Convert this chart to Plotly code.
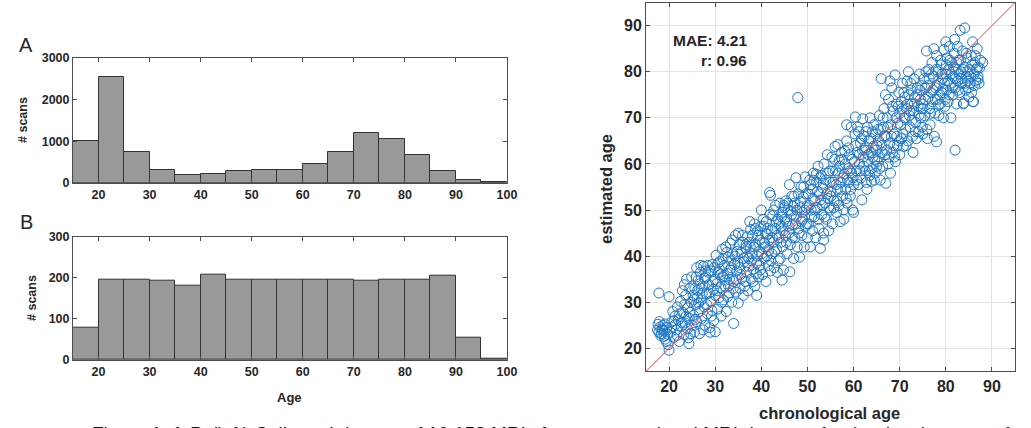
import plotly.graph_objects as go

# ---------------- data ----------------
bin_edges = [15, 20, 25, 30, 35, 40, 45, 50, 55, 60, 65, 70, 75, 80, 85, 90, 95, 100]
counts_A = [1000, 2540, 730, 315, 185, 218, 290, 298, 306, 444, 742, 1194, 1056, 661, 282, 73, 15]
counts_B = [78, 195, 195, 194, 180, 208, 195, 195, 195, 195, 195, 192, 196, 195, 204, 54, 3]
hist_xticks = [20, 30, 40, 50, 60, 70, 80, 90, 100]
hist_A_yticks = [0, 1000, 2000, 3000]
hist_B_yticks = [0, 100, 200, 300]

scatter_ticks = [20, 30, 40, 50, 60, 70, 80, 90]
age_range = [15, 95]
mae_text = "MAE: 4.21"
r_text = "r: 0.96"

# (chronological age, estimated age)
pts_under20 = [(17.5,24.0),(17.6,25.2),(17.8,23.5),(17.8,32.0),(18.0,24.6),(18.3,23.2),(18.5,24.2),(18.7,25.0),
               (19.0,23.8),(19.2,22.0),(19.5,24.5),(19.8,20.8),(20.0,19.6),(20.0,31.2),(19.4,21.5),(18.9,22.6)]
pts_20s_a = [(20.3,23.5),(20.6,25.8),(21.0,22.4),(21.3,27.0),(21.6,24.0),(21.8,29.0),(22.0,26.2),(22.2,21.5),
             (22.5,30.2),(22.7,24.8),(23.0,27.8),(23.2,23.0),(23.5,25.5),(23.6,31.5),(23.8,35.0),(24.0,24.2),
             (24.1,28.8),(24.3,21.0),(24.4,26.5),(24.5,33.0),(24.7,23.2),(24.8,30.0),(25.0,25.0),(21.4,25.2),
             (22.9,32.5),(24.2,22.3),(20.8,28.0),(23.4,29.5)]
pts_20s_b = [(25.2,31.5),(25.3,27.2),(25.5,23.5),(25.6,33.0),(25.8,29.5),(26.0,25.8),(26.1,31.0),(26.3,34.8),
             (26.5,28.0),(26.6,23.2),(26.8,36.5),(27.0,30.5),(27.1,26.5),(27.3,33.5),(27.5,37.8),(27.6,29.0),
             (27.8,25.0),(28.0,35.5),(28.1,31.8),(28.3,27.5),(28.4,38.0),(28.6,33.8),(28.8,24.5),(29.0,30.2),
             (29.1,36.8),(29.3,28.2),(29.5,34.5),(29.7,26.0),(29.8,37.5),(30.0,31.5),(27.9,36.8),(26.9,38.0),
             (28.9,23.5),(25.9,35.5),(27.4,24.0),(30.0,23.6)]
pts_30s_a = [(30.2,40.2),(30.3,34.0),(30.5,28.5),(30.7,36.5),(30.8,31.0),(31.0,38.8),(31.2,33.2),(31.3,27.0),
             (31.5,41.5),(31.6,35.5),(31.8,30.5),(32.0,38.0),(32.1,33.5),(32.3,42.0),(32.4,28.0),(32.6,36.2),
             (32.8,39.8),(33.0,32.0),(33.1,35.0),(33.3,42.8),(33.5,37.5),(33.6,30.0),(33.8,40.5),(34.0,25.4),
             (34.0,34.5),(34.2,38.2),(34.4,44.5),(34.5,32.2),(34.7,36.8),(34.8,41.0),(35.0,29.8),(35.0,45.0),
             (31.9,35.8),(33.4,39.0),(32.9,33.6),(30.9,37.2)]
pts_30s_b = [(35.3,37.5),(35.4,33.0),(35.6,40.8),(35.8,35.2),(36.0,43.0),(36.1,31.5),(36.3,38.8),(36.5,34.5),
             (36.6,41.8),(36.8,36.5),(37.0,44.2),(37.1,32.5),(37.3,39.5),(37.5,47.5),(37.6,42.0),(37.8,35.0),
             (38.0,40.5),(38.1,44.5),(38.3,37.2),(38.5,47.0),(38.6,33.5),(38.8,42.5),(39.0,38.5),(39.0,31.5),
             (39.2,45.5),(39.4,35.5),(39.5,41.0),(39.7,43.5),(39.8,37.0),(40.0,50.0),(36.9,40.0),(38.9,36.2),
             (37.7,45.8)]
pts_40s_a = [(40.2,43.0),(40.3,36.0),(40.5,46.5),(40.6,39.5),(40.8,42.0),(41.0,34.5),(41.1,47.5),(41.3,44.8),
             (41.5,38.0),(41.6,41.2),(41.8,53.8),(42.0,53.2),(42.0,36.8),(42.2,45.5),(42.3,40.5),(42.5,48.8),
             (42.6,43.0),(42.8,37.5),(43.0,46.0),(43.1,51.0),(43.3,41.5),(43.5,36.5),(43.6,48.0),(43.8,44.0),
             (44.0,51.5),(44.1,39.5),(44.3,46.5),(44.5,49.5),(44.6,42.0),(44.8,37.0),(45.0,50.5),(41.9,49.0),
             (43.9,47.0),(40.9,45.0),(44.5,34.8)]
pts_40s_b = [(45.2,44.5),(45.3,52.0),(45.5,47.5),(45.6,40.5),(45.8,50.0),(46.0,45.0),(46.1,55.5),(46.2,36.6),
             (46.3,42.5),(46.5,49.0),(46.6,53.0),(46.8,46.8),(47.0,39.5),(47.2,51.5),(47.3,44.0),(47.5,57.0),
             (47.6,48.5),(47.8,42.0),(47.9,74.4),(48.0,53.5),(48.1,46.0),(48.3,39.8),(48.4,50.5),(48.6,55.0),
             (48.8,44.5),(49.0,48.0),(49.1,52.8),(49.3,42.0),(49.5,57.2),(49.6,46.5),(49.8,50.5),(50.0,44.0),
             (46.9,50.8),(48.9,49.5)]
pts_50s_a = [(50.2,53.5),(50.3,47.0),(50.5,56.5),(50.6,42.0),(50.8,50.0),(51.0,54.5),(51.1,45.5),(51.3,58.0),
             (51.5,48.5),(51.6,52.0),(51.8,44.0),(52.0,56.0),(52.1,50.5),(52.3,59.5),(52.5,46.0),(52.6,53.5),
             (52.8,41.7),(53.0,57.5),(53.1,49.0),(53.3,54.8),(53.5,45.0),(53.6,60.0),(53.8,51.5),(54.0,56.5),
             (54.1,48.0),(54.3,62.0),(54.5,52.5),(54.6,45.5),(54.8,58.5),(55.0,50.0),(55.0,54.0),(52.9,52.2),
             (51.9,57.8),(53.5,43.5)]
pts_50s_b = [(55.3,61.5),(55.4,47.0),(55.6,56.0),(55.8,52.0),(56.0,63.8),(56.1,58.5),(56.3,49.5),(56.5,54.5),
             (56.6,64.2),(56.8,51.0),(57.0,59.5),(57.1,47.5),(57.3,56.0),(57.5,61.0),(57.6,53.0),(57.8,50.0),
             (58.0,57.8),(58.1,62.8),(58.3,54.5),(58.5,65.0),(58.6,51.5),(58.8,59.0),(59.0,56.0),(59.1,62.0),
             (59.3,53.0),(59.5,68.0),(59.6,58.0),(59.8,50.0),(60.0,55.5),(60.0,49.5),(57.9,48.0),(56.9,60.8),
             (58.5,68.5)]
pts_60s_a = [(60.3,66.5),(60.4,70.2),(60.6,58.5),(60.8,62.5),(61.0,55.5),(61.1,67.0),(61.3,60.0),(61.5,64.5),
             (61.6,57.0),(61.8,52.2),(62.0,69.8),(62.1,61.5),(62.3,66.0),(62.5,58.5),(62.6,63.5),(62.8,56.0),
             (63.0,68.0),(63.1,60.5),(63.3,65.0),(63.5,57.5),(63.6,70.0),(63.8,62.5),(64.0,59.0),(64.1,67.0),
             (64.3,63.8),(64.5,56.5),(64.6,61.0),(64.8,66.5),(65.0,59.5),(65.0,64.0),(62.9,54.5),(61.9,63.0),
             (63.9,56.2)]
pts_60s_b = [(65.3,67.5),(65.4,61.5),(65.6,70.5),(65.8,56.5),(66.0,78.5),(66.1,64.0),(66.3,59.5),(66.5,68.0),
             (66.6,72.0),(66.8,62.0),(67.0,55.8),(67.1,66.0),(67.3,70.0),(67.5,60.0),(67.6,74.0),(67.8,64.5),
             (68.0,58.0),(68.1,68.5),(68.3,76.5),(68.5,62.5),(68.6,71.5),(68.8,66.5),(69.0,79.3),(69.1,60.5),
             (69.3,73.0),(69.5,64.0),(69.6,68.8),(69.8,75.5),(70.0,62.0),(70.0,71.0),(67.9,78.0),(68.9,61.5),
             (66.9,75.0)]
pts_70s_a = [(70.3,73.5),(70.4,65.5),(70.6,77.5),(70.8,63.8),(71.0,70.0),(71.1,74.5),(71.3,67.5),(71.5,72.0),
             (71.6,78.0),(71.8,65.0),(72.0,75.0),(72.1,70.5),(72.3,68.0),(72.5,76.0),(72.6,73.0),(72.8,66.0),
             (73.0,71.5),(73.1,78.5),(73.3,74.5),(73.5,69.0),(73.6,65.5),(73.8,76.5),(74.0,72.5),(74.1,67.0),
             (74.3,79.5),(74.5,74.0),(74.6,70.0),(74.8,77.0),(75.0,66.5),(75.0,73.0),(72.9,62.5),(71.9,80.0)]
pts_70s_b = [(75.3,78.5),(75.4,70.5),(75.6,74.0),(75.8,84.5),(76.0,65.5),(76.1,77.0),(76.3,80.5),(76.5,72.0),
             (76.6,68.5),(76.8,75.5),(77.0,82.0),(77.1,73.5),(77.3,79.0),(77.5,66.0),(77.6,71.0),(77.8,76.5),
             (78.0,83.5),(78.0,64.8),(78.2,74.0),(78.3,80.0),(78.5,70.5),(78.6,77.5),(78.8,73.0),(79.0,81.5),
             (79.1,75.5),(79.3,78.5),(79.5,70.0),(79.6,84.8),(79.8,72.5),(80.0,86.5),(80.0,79.5),(77.4,85.0),
             (78.9,82.5),(79.4,76.2),(78.4,72.8)]
pts_80s_a = [(80.2,76.0),(80.3,83.0),(80.5,73.5),(80.6,80.5),(80.8,85.5),(81.0,77.5),(81.1,70.0),(81.3,82.0),
             (81.5,75.0),(81.6,79.0),(81.8,84.0),(82.0,63.0),(82.0,76.5),(82.2,80.5),(82.3,73.0),(82.5,85.5),
             (82.6,78.0),(82.8,82.5),(83.0,75.5),(83.1,89.0),(83.3,80.0),(83.5,77.5),(83.6,84.5),(83.8,73.0),
             (84.0,81.0),(84.1,89.5),(84.3,76.0),(84.5,79.0),(84.6,83.0),(84.8,78.0),(85.0,74.5),(83.9,73.2),
             (81.9,87.0)]
pts_80s_b = [(85.2,80.5),(85.3,77.5),(85.5,83.5),(85.6,75.5),(85.8,86.5),(86.0,73.5),(86.1,79.5),(86.3,82.0),
             (86.5,78.0),(86.6,80.5),(86.8,85.0),(87.0,79.0),(87.0,78.3),(87.3,80.8),(87.5,82.5),(88.0,82.0),
             (85.9,73.5)]
pts_more_young = [(17.9,25.8),(18.2,22.8),(18.6,23.9),(19.1,25.3),(19.7,23.1),(20.5,24.6),(21.1,26.0),(21.7,22.8),
                  (22.3,27.5),(22.8,25.6),(23.3,33.8),(23.7,27.0),(24.6,27.8),(24.9,35.5),(25.4,30.6),(25.7,26.3),
                  (26.2,32.6),(26.4,29.8),(26.7,34.0),(27.2,31.9),(27.7,35.2),(28.2,29.5),(28.5,36.5),(28.7,32.0),
                  (29.2,27.0),(29.4,38.2),(29.6,32.8),(29.9,35.0),(26.0,37.5),(27.0,33.0)]
pts_more_30_45 = [(30.4,32.5),(30.6,38.5),(31.1,36.0),(31.4,30.0),(31.7,39.5),(32.2,34.8),(32.5,40.8),(32.7,31.2),
                  (33.2,37.0),(33.7,43.5),(33.9,33.0),(34.3,40.0),(34.6,35.0),(34.9,38.5),(35.2,42.5),(35.5,36.0),
                  (35.9,44.5),(36.2,39.5),(36.4,33.5),(36.7,42.5),(37.2,37.8),(37.4,43.0),(37.9,39.0),(38.2,34.5),
                  (38.4,42.0),(38.7,46.0),(39.1,40.0),(39.3,44.5),(39.6,38.0),(39.9,46.5),(40.1,40.5),(40.4,48.0),
                  (40.7,42.8),(41.2,40.0),(41.4,46.0),(41.7,43.5),(42.1,39.0),(42.4,44.0),(42.7,50.0),(42.9,41.0),
                  (43.2,47.5),(43.4,44.5),(43.7,39.0),(44.2,43.0),(44.4,48.5),(44.7,45.5),(44.9,51.0)]
pts_more_45_60 = [(45.1,48.0),(45.4,43.0),(45.7,51.5),(45.9,46.5),(46.4,49.8),(46.7,44.0),(47.1,53.0),(47.4,47.0),
                  (47.7,50.0),(48.2,45.0),(48.5,51.8),(48.7,47.5),(49.2,55.0),(49.4,50.0),(49.7,53.5),(49.9,47.0),
                  (50.4,51.0),(50.7,55.5),(50.9,48.5),(51.2,52.5),(51.4,56.5),(51.7,50.0),(52.2,54.0),(52.4,48.0),
                  (52.7,57.0),(53.2,51.0),(53.4,55.8),(53.7,48.5),(54.2,53.5),(54.4,58.0),(54.7,50.5),(54.9,56.0),
                  (55.1,53.0),(55.5,58.5),(55.7,50.5),(55.9,61.0),(56.2,55.5),(56.4,52.0),(56.7,58.0),(57.2,54.5),
                  (57.4,62.5),(57.7,57.0),(58.2,60.0),(58.4,52.5),(58.7,56.5),(58.9,63.5),(59.2,58.5),(59.4,54.5),
                  (59.7,61.0),(59.9,57.0)]
pts_more_60_75 = [(60.2,60.5),(60.5,64.0),(60.7,56.5),(60.9,68.0),(61.2,62.0),(61.4,58.5),(61.7,65.5),(62.2,59.5),
                  (62.4,63.0),(62.7,67.0),(63.2,62.0),(63.4,58.5),(63.7,65.5),(64.2,61.5),(64.4,68.5),(64.7,58.0),
                  (64.9,63.0),(65.1,60.5),(65.5,65.0),(65.7,59.0),(65.9,67.5),(66.2,62.5),(66.4,70.0),(66.7,66.0),
                  (67.2,63.0),(67.4,68.0),(67.7,61.5),(68.2,66.0),(68.4,72.5),(68.7,64.0),(69.2,70.0),(69.4,66.0),
                  (69.7,72.5),(69.9,65.0),(70.2,68.5),(70.5,72.0),(70.7,66.5),(70.9,75.5),(71.2,70.0),(71.4,64.0),
                  (71.7,73.0),(72.2,71.5),(72.4,77.5),(72.7,69.5),(73.2,73.0),(73.4,67.0),(73.7,75.0),(74.2,70.5),
                  (74.4,76.0),(74.7,72.0),(74.9,68.0)]
pts_more_old = [(75.1,72.0),(75.5,76.5),(75.7,80.0),(75.9,67.5),(76.2,74.5),(76.4,78.5),(76.7,71.0),(76.9,79.5),
                (77.2,76.0),(77.7,74.0),(77.9,80.5),(78.1,77.0),(78.7,75.0),(79.2,79.5),(79.7,77.5),(79.9,74.0),
                (80.1,81.5),(80.4,78.0),(80.7,75.0),(80.9,82.5),(81.2,79.5),(81.4,76.5),(81.7,81.0),(82.1,78.5),
                (82.4,82.0),(82.7,76.0),(82.9,79.5),(83.2,82.5),(83.4,78.5),(83.7,80.5),(84.2,77.5),(84.4,84.0),
                (84.7,80.0),(84.9,76.5),(85.4,79.0),(85.7,81.5),(86.2,77.0),(86.4,83.5),(86.9,81.0),(87.2,77.5)]

caption_head = "Figure 1. A-B"
caption_body = "(left) Collected dataset of 10,158 MRIs from seven related MRI datasets for the development of"

# ---------------- figure ----------------
W, H = 1031, 428
def px(x):
    return x / W
def py(y):
    return 1 - y / H

FONT = "Liberation Sans, Arial, Helvetica, sans-serif"
AXC = "#4d4d4d"
TXT = "#262626"

all_pts = (pts_under20 + pts_20s_a + pts_20s_b + pts_30s_a + pts_30s_b + pts_40s_a + pts_40s_b +
           pts_50s_a + pts_50s_b + pts_60s_a + pts_60s_b + pts_70s_a + pts_70s_b + pts_80s_a + pts_80s_b +
           pts_more_young + pts_more_30_45 + pts_more_45_60 + pts_more_60_75 + pts_more_old)
chron_age = [p[0] for p in all_pts]
est_age = [p[1] for p in all_pts]

centers = [(a + b) / 2 for a, b in zip(bin_edges[:-1], bin_edges[1:])]
widths = [b - a for a, b in zip(bin_edges[:-1], bin_edges[1:])]

fig = go.Figure()
bar_style = dict(marker=dict(color="#999999", line=dict(color="#333333", width=1)), showlegend=False,
                 hoverinfo="x+y")
fig.add_trace(go.Bar(x=centers, y=counts_A, width=widths, xaxis="x", yaxis="y", **bar_style))
fig.add_trace(go.Bar(x=centers, y=counts_B, width=widths, xaxis="x2", yaxis="y2", **bar_style))

fig.add_trace(go.Scatter(x=chron_age, y=est_age, mode="markers", xaxis="x3", yaxis="y3",
                         marker=dict(symbol="circle-open", size=10, color="#1f77c4",
                                     line=dict(width=1, color="#1f77c4")),
                         showlegend=False))
fig.add_trace(go.Scatter(x=age_range, y=age_range, mode="lines", xaxis="x3", yaxis="y3",
                         line=dict(color="#e8414a", width=1), showlegend=False))

hist_tickfont = dict(family=FONT, size=12.5, color=TXT, weight="bold")
sc_tickfont = dict(family=FONT, size=16, color=TXT, weight="bold")

common = dict(ticks="inside", ticklen=4, tickcolor=AXC, showline=True, linecolor=AXC, linewidth=1,
              mirror="allticks", zeroline=False, automargin=False)

def hist_x(anchor):
    return dict(domain=[px(73), px(507)], anchor=anchor, range=[15, 100], tickvals=hist_xticks,
                showgrid=False, tickfont=hist_tickfont, **common)

def hist_y(anchor, top, bottom, rng, vals):
    return dict(domain=[py(bottom), py(top)], anchor=anchor, range=rng, tickvals=vals,
                showgrid=False, tickfont=hist_tickfont, **common)

sc_axis = dict(range=age_range, tickvals=scatter_ticks, showgrid=True, gridcolor="#e3e3e3", gridwidth=1,
               tickfont=sc_tickfont, **common)

fig.update_layout(
    template="none",
    width=W, height=H, margin=dict(l=0, r=0, t=0, b=0, pad=0), autosize=False,
    paper_bgcolor="white", plot_bgcolor="white", bargap=0,
    xaxis=hist_x("y"),
    yaxis=hist_y("x", 58, 182.7, [0, 3000], hist_A_yticks),
    xaxis2=hist_x("y2"),
    yaxis2=hist_y("x2", 236.7, 360, [0, 300], hist_B_yticks),
    xaxis3=dict(domain=[px(646), px(1015)], anchor="y3", **sc_axis),
    yaxis3=dict(domain=[py(371.4), py(2.6)], anchor="x3", **sc_axis),
)

ann = []
def label(text, x, y, size, bold=True, angle=0, xanchor="center", yanchor="middle"):
    ann.append(dict(text=text, x=px(x), y=py(y), xref="paper", yref="paper", showarrow=False,
                    textangle=angle, xanchor=xanchor, yanchor=yanchor,
                    font=dict(family=FONT, size=size, color=TXT, weight="bold" if bold else "normal")))

label("A", 26, 45, 20, bold=False)
label("B", 26, 222, 20, bold=False)
label("# scans", 23, 120, 12.5, angle=-90)
label("# scans", 32, 298, 12.5, angle=-90)
label("Age", 289, 397, 13)
label("estimated age", 606, 189, 16.5, angle=-90)
label("chronological age", 829, 413, 16.5)
label(mae_text, 749, 40, 15.5, xanchor="right")
label(r_text, 749, 60, 15.5, xanchor="right")
cap_font = dict(family=FONT, size=19, color="#111111")
ann.append(dict(text=caption_head, x=px(205), y=py(421), xref="paper", yref="paper", showarrow=False,
                xanchor="right", yanchor="top", font=cap_font))
ann.append(dict(text=caption_body, x=px(209), y=py(421), xref="paper", yref="paper", showarrow=False,
                xanchor="left", yanchor="top", font=cap_font))
fig.update_layout(annotations=ann)

fig.write_html("out.html", config={"displayModeBar": False},
               post_script="document.body.style.margin='0';document.body.style.overflow='hidden';")
